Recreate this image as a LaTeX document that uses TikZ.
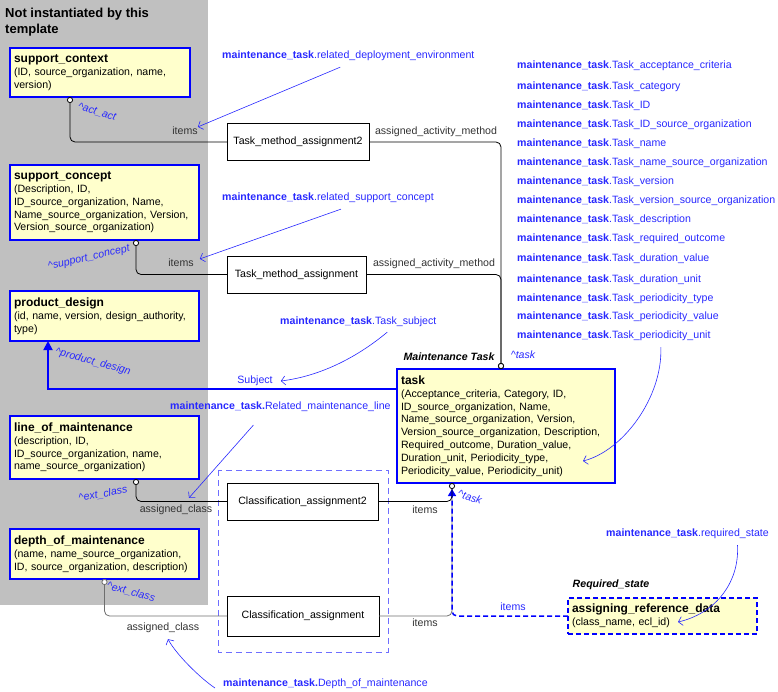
\documentclass[tikz,border=0pt]{standalone}
\usepackage{fontspec}
\setmainfont{Liberation Sans}
\usetikzlibrary{arrows.meta}

\definecolor{entblue}{RGB}{0,0,255}
\definecolor{annoblue}{RGB}{40,40,255}
\definecolor{entyellow}{RGB}{255,255,204}
\definecolor{grayzone}{RGB}{192,192,192}
\definecolor{grpblue}{RGB}{110,110,255}
\definecolor{labgray}{RGB}{51,51,51}
\definecolor{linegray}{RGB}{110,110,110}

\newcommand{\bodyfont}{\fontsize{10.6}{12.8}\selectfont}
\newcommand{\enttitle}[1]{{\fontsize{12}{14}\selectfont\bfseries #1}}
\newcommand{\mt}{\textbf{maintenance\_task}}

\begin{document}
\begin{tikzpicture}[x=1pt,y=-1pt,
  circ/.tip={Circle[length=6pt,fill=white]},
  ent/.style={draw=entblue, line width=1.8pt, fill=entyellow, anchor=north west,
    align=left, inner sep=4pt, outer sep=0pt, font=\bodyfont},
  rel/.style={draw, line width=0.8pt, fill=white, minimum height=37pt, outer sep=0pt, font=\bodyfont},
  lab/.style={text=labgray, inner sep=0pt, font=\bodyfont},
  role/.style={text=annoblue, inner sep=0pt, font=\bodyfont\itshape},
  anno/.style={text=annoblue, inner sep=0pt, anchor=west, font=\bodyfont},
  conn/.style={line width=0.8pt, rounded corners=5pt},
  annoarr/.style={annoblue, line width=0.6pt, -{Straight Barb[length=4pt,width=9pt]}}]
\useasboundingbox (0,0) rectangle (778,691);

% not instantiated area
\fill [grayzone] (0,0) rectangle (208,605);
\node [anchor=north west, align=left, inner sep=0pt, font=\fontsize{13}{16}\selectfont\bfseries] (nit) at (5,8) {Not instantiated by this\\template};

\draw [grpblue, line width=1pt, dash pattern=on 6pt off 4pt] (218,470) rectangle (388,652);

% entities
\begin{scope}[every node/.style={ent}]
\node [text width=172pt, minimum height=49pt] (sc) at (10,48) {\enttitle{support\_context}\\(ID, source\_organization, name,\\version)};
\node [text width=181pt, minimum height=75pt] (scp) at (10,165) {\enttitle{support\_concept}\\(Description, ID,\\ID\_source\_organization, Name,\\Name\_source\_organization, Version,\\Version\_source\_organization)};
\node [text width=181pt, minimum height=50pt] (pd) at (10,291) {\enttitle{product\_design}\\(id, name, version, design\_authority,\\type)};
\node [text width=181pt, minimum height=63pt] (lom) at (10,416) {\enttitle{line\_of\_maintenance}\\(description, ID,\\ID\_source\_organization, name,\\name\_source\_organization)};
\node [text width=181pt, minimum height=50pt] (dom) at (10,529) {\enttitle{depth\_of\_maintenance}\\(name, name\_source\_organization,\\ID, source\_organization, description)};
\node [text width=210pt, minimum height=114pt] (tsk) at (397,369) {\enttitle{task}\\(Acceptance\_criteria, Category, ID,\\ID\_source\_organization, Name,\\Name\_source\_organization, Version,\\Version\_source\_organization, Description,\\Required\_outcome, Duration\_value,\\Duration\_unit, Periodicity\_type,\\Periodicity\_value, Periodicity\_unit)};
\node [dash pattern=on 5pt off 3pt, text width=181pt, minimum height=36pt] (ard) at (568,598) {\enttitle{assigning\_reference\_data}\\(class\_name, ecl\_id)};
\end{scope}

% relationship boxes
\begin{scope}[every node/.style={rel}]
\node [minimum width=142pt] (tma2) at (298,142) {Task\_method\_assignment2};
\node [minimum width=139pt] (tma) at (296.5,274.5) {Task\_method\_assignment};
\node [minimum width=151pt] (ca2) at (302.5,501.5) {Classification\_assignment2};
\node [minimum width=152pt, minimum height=40pt] (ca) at (303,616) {Classification\_assignment};
\end{scope}

\coordinate (ttop) at (501,369);
\coordinate (tbot) at (452,483);
\coordinate (tbot2) at (452,489);
\coordinate (tskpt) at (583,461);
\coordinate (ardpt) at (678,622);

% connectors
\draw [conn, circ-] ([xshift=-30pt]sc.south) |- (tma2.west);
\draw [conn, -circ] (tma2.east) -| (ttop);
\draw [conn, circ-] ([xshift=31.5pt]scp.south) |- (tma.west);
\draw [conn, -circ] (tma.east) -| (ttop);
\draw [entblue, line width=1.8pt, -{Triangle[length=9pt,width=9pt]}] ([yshift=37pt]tsk.west) -| ([xshift=38pt]pd.south west);
\draw [conn, circ-] ([xshift=31.5pt]lom.south) |- (ca2.west);
\draw [conn, linegray, circ-] (dom.south) |- (ca.west);
\draw [conn, linegray] (ca.east) -| (tbot);
\draw [entblue, line width=1.5pt, dash pattern=on 5pt off 3pt, rounded corners=5pt, -{Triangle[length=7pt,width=8pt]}] (ard.west) -| (tbot2);
\draw [conn, -circ] (ca2.east) -| (tbot);

% connector labels
\node [lab] (it1) at (185,131) {items};
\node [lab] (it2) at (181,263) {items};
\node [lab] (aam1) at (436,132) {assigned\_activity\_method};
\node [lab] (aam2) at (434,264) {assigned\_activity\_method};
\node [lab] (ac1) at (176,510) {assigned\_class};
\node [lab] (ac2) at (163,628) {assigned\_class};
\node [lab] (it3) at (425,510) {items};
\node [lab] (it4) at (425,623) {items};
\node [lab, text=annoblue] (it5) at (513,607) {items};
\node [lab, text=annoblue] (subj) at (255,381) {Subject};
\node [lab, text=black, font=\bodyfont\bfseries\itshape] (mtt) at (449,357) {Maintenance Task};
\node [lab, text=black, font=\bodyfont\bfseries\itshape] (rqs) at (611,585) {Required\_state};

% role names
\node [role, rotate=-17] (r1) at (97,112) {\textasciicircum act\_act};
\node [role, rotate=13] (r2) at (89,258) {\textasciicircum support\_concept};
\node [role, rotate=-15] (r3) at (93,362) {\textasciicircum product\_design};
\node [role, rotate=11] (r4) at (103,494) {\textasciicircum ext\_class};
\node [role, rotate=-15] (r5) at (131,592) {\textasciicircum ext\_class};
\node [role, rotate=-18] (r6) at (470,497) {\textasciicircum task};
\node [role] (r7) at (523,355) {\textasciicircum task};

% mapping notes
\node [anno] (rde) at (222,56) {\mt.related\_deployment\_environment};
\node [anno] (rsc) at (222,198) {\mt.related\_support\_concept};
\node [anno] (tsub) at (280,322) {\mt.Task\_subject};
\node [anno] (rml) at (170,407) {\textbf{maintenance\_task.}Related\_maintenance\_line};
\node [anno] (dmn) at (223,684) {\textbf{maintenance\_task.}Depth\_of\_maintenance};
\node [anno] (rst) at (606,534) {\mt.required\_state};

\node [anno] (tac) at (517,66) {\mt.Task\_acceptance\_criteria};
\node [anno] (tcat) at (517,87) {\mt.Task\_category};
\node [anno] (tid) at (517,106) {\mt.Task\_ID};
\node [anno] (tidso) at (517,125) {\mt.Task\_ID\_source\_organization};
\node [anno] (tnm) at (517,144) {\mt.Task\_name};
\node [anno] (tnmso) at (517,163) {\mt.Task\_name\_source\_organization};
\node [anno] (tver) at (517,182) {\mt.Task\_version};
\node [anno] (tverso) at (517,201) {\mt.Task\_version\_source\_organization};
\node [anno] (tdesc) at (517,220) {\mt.Task\_description};
\node [anno] (treq) at (517,239) {\mt.Task\_required\_outcome};
\node [anno] (tdv) at (517,259) {\mt.Task\_duration\_value};
\node [anno] (tdu) at (517,280) {\mt.Task\_duration\_unit};
\node [anno] (tpt) at (517,299) {\mt.Task\_periodicity\_type};
\node [anno] (tpv) at (517,317) {\mt.Task\_periodicity\_value};
\node [anno] (tpu) at (517,336) {\mt.Task\_periodicity\_unit};

\draw [annoarr] ([xshift=-8pt,yshift=-6pt]rde.south) -- (it1.north east);
\draw [annoarr] ([xshift=13pt,yshift=-6pt]rsc.south) -- ([xshift=6pt]it2.north east);
\draw [annoarr] ([xshift=29pt,yshift=-5pt]tsub.south) .. controls +(-30,25) and +(40,-5) .. ([xshift=8pt]subj.east);
\draw [annoarr] ([xshift=-27pt,yshift=-13pt]rml.south) -- ([xshift=13pt,yshift=7pt]ac1.north);
\draw [annoarr] ([xshift=-8pt,yshift=-4pt]dmn.west) .. controls +(-15,-10) and +(8,15) .. ([xshift=5pt,yshift=-6pt]ac2.south);
\draw [annoarr] ([xshift=47pt,yshift=-6pt]tpu.south) .. controls +(2,50) and +(40,-10) .. (tskpt);
\draw [annoarr] ([xshift=50pt,yshift=-6pt]rst.south) .. controls +(2,40) and +(35,-8) .. (ardpt);
\end{tikzpicture}
\end{document}
